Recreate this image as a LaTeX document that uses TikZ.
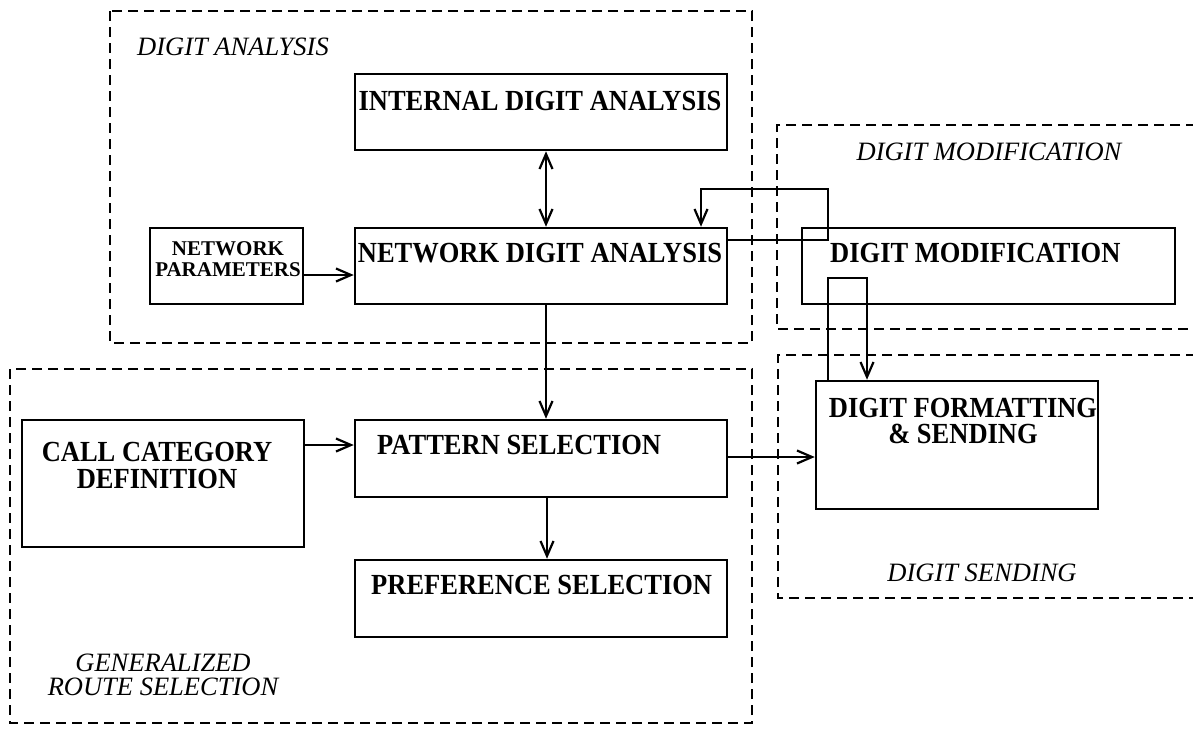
\documentclass[tikz,border=0pt]{standalone}
\usepackage{fontspec}
\setmainfont{Liberation Serif}
\usetikzlibrary{arrows.meta,fit}
\newcommand\vtall[1]{\scalebox{1}[1.1]{#1}}
\begin{document}
\begin{tikzpicture}[x=1pt,y=-1pt,
  box/.style={draw,line width=2.5pt,inner sep=0pt,rectangle},
  group/.style={draw,line width=2.5pt,dash pattern=on 10pt off 6pt},
  boxtxt/.style={inner sep=0pt,font=\fontsize{26.5}{26}\selectfont\bfseries},
  smalltxt/.style={inner sep=0pt,align=center,font=\fontsize{21}{21}\selectfont\bfseries},
  grplab/.style={inner sep=0pt,align=center,font=\fontsize{26.5}{24}\selectfont\itshape},
  arr/.style={line width=2.2pt,-{Straight Barb[length=15pt,width=13pt,line width=2.2pt]}},
  darr/.style={line width=2.2pt,{Straight Barb[length=15pt,width=13pt,line width=2.2pt]}-{Straight Barb[length=15pt,width=13pt,line width=2.2pt]}}
]
\useasboundingbox (0,0) rectangle (1193,728);

% group frames
\draw[group] (110,11) rectangle (752,343);
\draw[group] (10,369) rectangle (752,723);
\draw[group] (1196,125) -- (777,125) -- (777,329) -- (1196,329);
\draw[group] (1196,355) -- (778,355) -- (778,598) -- (1196,598);

% group labels
\node[grplab,anchor=west] (lda) at (137,47) {DIGIT ANALYSIS};
\node[grplab] (ldm) at (989,152) {DIGIT MODIFICATION};
\node[grplab] (lds) at (982,573) {DIGIT SENDING};
\node[grplab] (lgr) at (163,675) {GENERALIZED\\ROUTE SELECTION};

% boxes
\node[box,fit={(355,74) (727,150)}] (ida) {};
\node[box,fit={(355,228) (727,304)}] (nda) {};
\node[box,fit={(150,228) (303,304)}] (np) {};
\node[box,fit={(802,228) (1175,304)}] (dm) {};
\node[box,fit={(816,381) (1098,509)}] (dfs) {};
\node[box,fit={(22,420) (304,547)}] (ccd) {};
\node[box,fit={(355,420) (727,497)}] (ps) {};
\node[box,fit={(355,560) (727,637)}] (pref) {};

% box texts
\node[boxtxt] (tida) at (540,101) {\vtall{INTERNAL DIGIT ANALYSIS}};
\node[boxtxt] (tnda) at (540,253) {\vtall{NETWORK DIGIT ANALYSIS}};
\node[smalltxt] (tnp) at (228,259.5) {NETWORK\\PARAMETERS};
\node[boxtxt,anchor=west] (tdm) at (830,253) {\vtall{DIGIT MODIFICATION}};
\node[boxtxt,font=\fontsize{26.5}{21}\selectfont\bfseries] (tdfs) at (963,424) {\vtall{\begin{tabular}{@{}c@{}}DIGIT FORMATTING\\\& SENDING\end{tabular}}};
\node[boxtxt,font=\fontsize{26.5}{23}\selectfont\bfseries] (tccd) at (157,469) {\vtall{\begin{tabular}{@{}c@{}}CALL CATEGORY\\DEFINITION\end{tabular}}};
\node[boxtxt,anchor=west] (tps) at (377,445) {\vtall{PATTERN SELECTION}};
\node[boxtxt,anchor=west] (tpref) at (371,585) {\vtall{PREFERENCE SELECTION}};

% connectors
\coordinate (a1) at ([xshift=5pt]ida.south);
\draw[darr] (a1) -- (a1 |- nda.north);

\coordinate (a2) at ([yshift=-9pt]np.east);
\draw[arr] (a2) -- (a2 -| nda.west);

\coordinate (a3) at ([xshift=5pt]nda.south);
\draw[arr] (a3) -- (a3 |- ps.north);

\coordinate (a4) at ([yshift=38.5pt]ccd.east);
\draw[arr] (a4) -- (a4 -| ps.west);

\coordinate (a5) at ([xshift=6pt]ps.south);
\draw[arr] (a5) -- (a5 |- pref.north);

\coordinate (a6) at ([yshift=1.5pt]ps.east);
\draw[arr] (a6) -- (a6 -| dfs.west);

\coordinate (l1s) at ([yshift=26pt]nda.east);
\coordinate (l1c) at (828,189);
\coordinate (l1e) at ([xshift=160pt]nda.north);
\draw[arr] (l1s) -| (l1c) -| (l1e);

\coordinate (l2s) at ([xshift=-129pt]dfs.north);
\coordinate (l2e) at ([xshift=-90pt]dfs.north);
\draw[arr] (l2s) -- ++(0,-102) -| (l2e);
\end{tikzpicture}
\end{document}
